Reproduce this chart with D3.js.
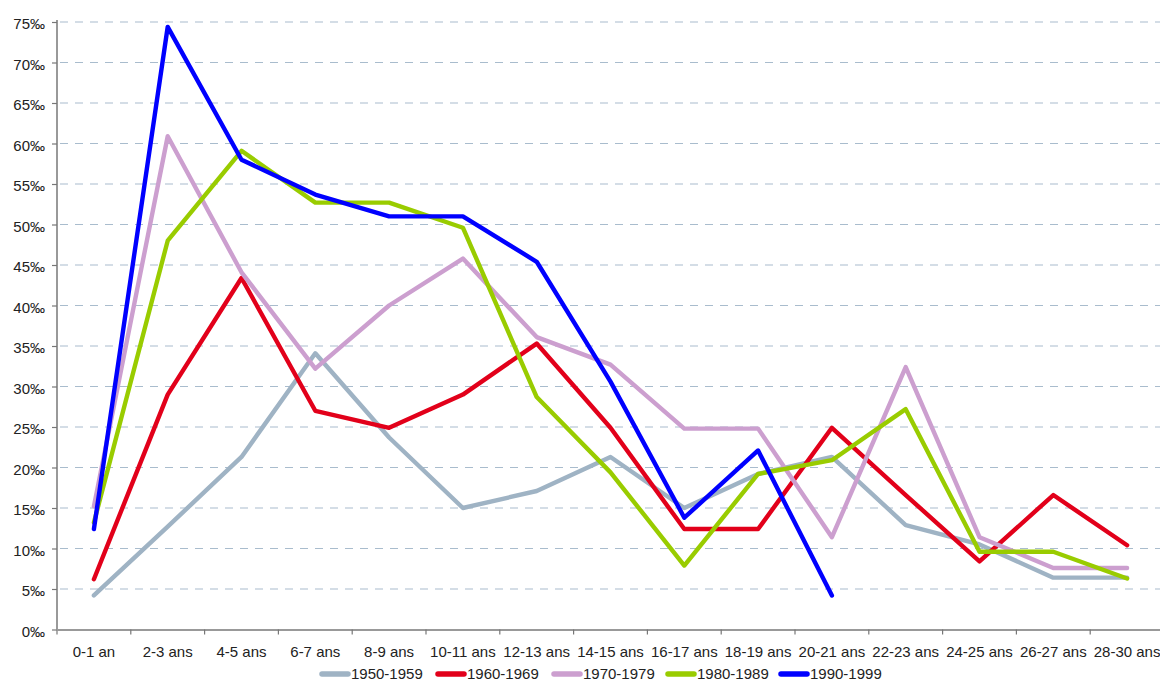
<!doctype html>
<html lang='fr'>
<head>
    <meta charset='utf-8'>
    <title>Taux par tranche d'âge</title>
    <script src='https://cdn.jsdelivr.net/npm/d3@7/dist/d3.min.js'></script>
    <style>
        body { margin: 0; background: white; }
        text { font-family: 'Liberation Sans', Arial, Helvetica, sans-serif; fill: #222; }
        .grid line { stroke: #a9bccd; stroke-dasharray: 8 7; stroke-width: 1.2px; }
        .series { fill: none; stroke-width: 4.4px; stroke-linejoin: round; stroke-linecap: round; }
    </style>
</head>
<body>
<svg id='chart' width='1160' height='682'></svg>
<script>
    // age brackets (x axis)
    const ages = ['0-1 an', '2-3 ans', '4-5 ans', '6-7 ans', '8-9 ans', '10-11 ans', '12-13 ans',
        '14-15 ans', '16-17 ans', '18-19 ans', '20-21 ans', '22-23 ans', '24-25 ans', '26-27 ans', '28-30 ans'];

    const yTicks = [0, 5, 10, 15, 20, 25, 30, 35, 40, 45, 50, 55, 60, 65, 70, 75];

    // values in per mille
    const s1950 = [4.2, 12.7, 21.3, 34.1, 23.7, 15.0, 17.1, 21.3, 15.0, 19.2, 21.3, 12.9, 10.5, 6.4, 6.4];
    const s1960 = [6.2, 29.0, 43.4, 27.0, 24.9, 29.0, 35.3, 24.9, 12.4, 12.4, 24.9, 16.6, 8.4, 16.6, 10.4];
    const s1970 = [15.2, 60.9, 44.1, 32.2, 40.0, 45.8, 36.1, 32.7, 24.8, 24.8, 11.4, 32.4, 11.4, 7.6, 7.6];
    const s1980 = [13.2, 48.0, 59.1, 52.7, 52.7, 49.6, 28.7, 19.4, 7.9, 19.2, 20.9, 27.2, 9.6, 9.6, 6.3];
    const s1990 = [12.4, 74.4, 58.0, 53.7, 51.0, 51.0, 45.4, 30.6, 13.8, 22.1, 4.2, null, null, null, null];

    const seriesNames = ['1950-1959', '1960-1969', '1970-1979', '1980-1989', '1990-1999'];
    const seriesValues = [s1950, s1960, s1970, s1980, s1990];
    const colors = ['#9fb3c4', '#e2001a', '#cc9fcf', '#99cc00', '#0000ff'];

    const svg = d3.select('#chart');
    const plotLeft = 57, plotRight = 1164, plotTop = 22, plotBottom = 629.5;

    const x = d3.scaleBand().domain(ages).range([plotLeft, plotRight]);
    const y = d3.scaleLinear().domain([0, 75]).range([plotBottom, plotTop]);

    // dashed horizontal grid
    svg.append('g').attr('class', 'grid')
        .selectAll('line')
        .data(yTicks.filter(d => d > 0))
        .enter()
        .append('line')
        .attr('x1', plotLeft + 3)
        .attr('x2', 1160)
        .attr('y1', d => y(d))
        .attr('y2', d => y(d));

    // y axis
    const yAxis = svg.append('g')
        .attr('transform', `translate(${plotLeft},0)`)
        .call(d3.axisLeft(y).tickValues(yTicks).tickSize(5).tickPadding(7).tickFormat(d => d + '‰'));
    yAxis.select('.domain').attr('stroke', '#777').attr('stroke-width', 1.5).attr('d', `M0,${plotTop - 2}V${plotBottom}`);
    yAxis.selectAll('.tick line').attr('stroke', '#777').attr('stroke-width', 1.2);
    yAxis.selectAll('.tick text').style('font-size', '15px').attr('dy', '0.46em');

    // x axis (ticks on band boundaries)
    const xAxis = svg.append('g')
        .attr('transform', `translate(0,${plotBottom})`)
        .call(d3.axisBottom(x).tickSize(0).tickPadding(17));
    xAxis.select('.domain').attr('stroke', '#777').attr('stroke-width', 1.5);
    xAxis.selectAll('.tick text').style('font-size', '15px');
    xAxis.selectAll('.bound')
        .data(ages)
        .enter()
        .append('line')
        .attr('x1', d => x(d))
        .attr('x2', d => x(d))
        .attr('y1', 0)
        .attr('y2', 5)
        .attr('stroke', '#777')
        .attr('stroke-width', 1.2);

    // series lines
    const line = d3.line()
        .defined(d => d != null)
        .x((d, i) => x(ages[i]) + x.bandwidth() / 2)
        .y(d => y(d));

    svg.append('g')
        .selectAll('path')
        .data(seriesValues)
        .enter()
        .append('path')
        .attr('class', 'series')
        .attr('stroke', (d, i) => colors[i])
        .attr('d', d => line(d));

    // legend
    const legendX = [322, 438, 554, 668, 781];
    const legend = svg.append('g')
        .selectAll('g')
        .data(seriesNames)
        .enter()
        .append('g')
        .attr('transform', (d, i) => `translate(${legendX[i]},674)`);
    legend.append('line')
        .attr('x1', 0).attr('x2', 26)
        .attr('stroke', (d, i) => colors[i])
        .attr('stroke-width', 5.5)
        .attr('stroke-linecap', 'round');
    legend.append('text')
        .attr('x', 29)
        .attr('dy', '0.36em')
        .style('font-size', '15px')
        .text(d => d);
</script>
</body>
</html>
